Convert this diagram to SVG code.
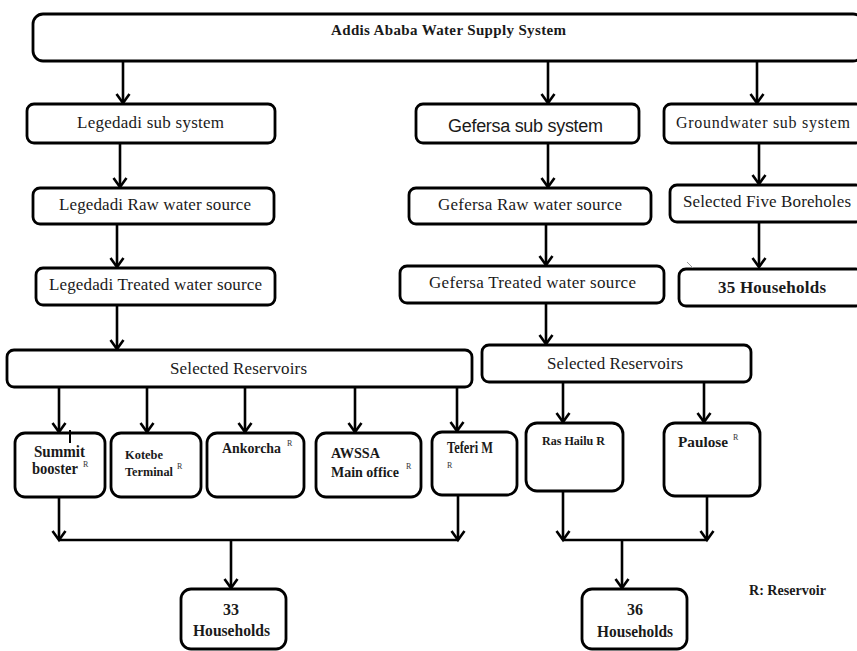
<svg xmlns="http://www.w3.org/2000/svg" width="857" height="651" viewBox="0 0 857 651">
<defs>
<marker id="arr" markerUnits="userSpaceOnUse" markerWidth="16" markerHeight="16" refX="10" refY="7" orient="auto" overflow="visible">
<path d="M1,0.5 L10,7 L1,13.5" fill="none" stroke="#000" stroke-width="2.6"/>
</marker>
</defs>
<style>
.box{fill:#fff;stroke:#000;stroke-width:2.8}
.t{font-family:"Liberation Serif","Times New Roman",serif;fill:#1a1a1a}
.s{font-family:"Liberation Sans",Arial,sans-serif;fill:#1a1a1a}
.b{font-weight:bold}
.c{stroke:#000;stroke-width:2.6;fill:none}
.sup{font-family:"Liberation Serif",serif;font-size:8px;fill:#333}
</style>
<rect width="857" height="651" fill="#fff"/>

<g id="connectors">
<line class="c" x1="123" y1="61" x2="123" y2="103" marker-end="url(#arr)"/>
<line class="c" x1="548" y1="61" x2="548" y2="103" marker-end="url(#arr)"/>
<line class="c" x1="757" y1="61" x2="757" y2="103" marker-end="url(#arr)"/>
<line class="c" x1="120" y1="143" x2="120" y2="187" marker-end="url(#arr)"/>
<line class="c" x1="117" y1="224" x2="117" y2="267" marker-end="url(#arr)"/>
<line class="c" x1="117" y1="305" x2="117" y2="349" marker-end="url(#arr)"/>
<line class="c" x1="548" y1="143" x2="548" y2="187" marker-end="url(#arr)"/>
<line class="c" x1="546" y1="224" x2="546" y2="265" marker-end="url(#arr)"/>
<line class="c" x1="546" y1="303" x2="546" y2="344" marker-end="url(#arr)"/>
<line class="c" x1="759" y1="143" x2="759" y2="184" marker-end="url(#arr)"/>
<line class="c" x1="759" y1="222" x2="759" y2="267" marker-end="url(#arr)"/>
<line class="c" x1="59" y1="387" x2="59" y2="432" marker-end="url(#arr)"/>
<line class="c" x1="147" y1="387" x2="147" y2="432" marker-end="url(#arr)"/>
<line class="c" x1="245" y1="387" x2="245" y2="432" marker-end="url(#arr)"/>
<line class="c" x1="355" y1="387" x2="355" y2="432" marker-end="url(#arr)"/>
<line class="c" x1="457" y1="387" x2="457" y2="431" marker-end="url(#arr)"/>
<line class="c" x1="59" y1="497" x2="59" y2="540" marker-end="url(#arr)"/>
<line class="c" x1="458" y1="496" x2="458" y2="540" marker-end="url(#arr)"/>
<line class="c" x1="59" y1="540" x2="458" y2="540"/>
<line class="c" x1="231" y1="540" x2="231" y2="588" marker-end="url(#arr)"/>
<line class="c" x1="563" y1="382" x2="563" y2="422" marker-end="url(#arr)"/>
<line class="c" x1="704" y1="382" x2="704" y2="422" marker-end="url(#arr)"/>
<line class="c" x1="563" y1="491" x2="563" y2="540" marker-end="url(#arr)"/>
<line class="c" x1="707" y1="496" x2="707" y2="540" marker-end="url(#arr)"/>
<line class="c" x1="563" y1="540" x2="707" y2="540"/>
<line class="c" x1="622" y1="540" x2="622" y2="588" marker-end="url(#arr)"/>
</g>

<g id="n-top"><rect class="box" x="33" y="14" width="830" height="47" rx="10"/>
<text class="t b" x="331" y="35" font-size="15" textLength="235">Addis Ababa Water Supply System</text></g>

<g id="n-leg-sub"><rect class="box" x="27" y="104" width="248" height="39" rx="7"/>
<text class="t" x="77" y="128" font-size="17" textLength="147">Legedadi sub system</text></g>
<g id="n-leg-raw"><rect class="box" x="33" y="188" width="241" height="36" rx="7"/>
<text class="t" x="59" y="210" font-size="17" textLength="192">Legedadi Raw water source</text></g>
<g id="n-leg-treat"><rect class="box" x="36" y="268" width="239" height="37" rx="7"/>
<text class="t" x="49" y="290" font-size="17" textLength="213">Legedadi Treated water source</text></g>

<g id="n-gef-sub"><rect class="box" x="416" y="104" width="223" height="39" rx="7"/>
<text class="s" x="448" y="132" font-size="18" textLength="155">Gefersa sub system</text></g>
<g id="n-gw-sub"><rect class="box" x="664" y="104" width="199" height="39" rx="7"/>
<text class="t" x="676" y="128" font-size="16" textLength="174">Groundwater sub system</text></g>
<g id="n-gef-raw"><rect class="box" x="409" y="188" width="242" height="36" rx="7"/>
<text class="t" x="438" y="210" font-size="17" textLength="184">Gefersa Raw water source</text></g>
<g id="n-bore"><rect class="box" x="670" y="185" width="193" height="37" rx="7"/>
<text class="t" x="683" y="207" font-size="17" textLength="168">Selected Five Boreholes</text></g>
<g id="n-gef-treat"><rect class="box" x="400" y="266" width="264" height="37" rx="7"/>
<text class="t" x="429" y="288" font-size="17" textLength="207">Gefersa Treated water source</text></g>
<g id="n-hh35"><rect class="box" x="679" y="269" width="184" height="37" rx="7"/>
<text class="t b" x="718" y="293" font-size="17" textLength="108">35 Households</text></g>
<line x1="687" y1="262" x2="693" y2="268" stroke="#999" stroke-width="1"/>

<g id="n-res-left"><rect class="box" x="7" y="350" width="465" height="37" rx="7"/>
<text class="t" x="170" y="374" font-size="17" textLength="137">Selected Reservoirs</text></g>
<g id="n-res-right"><rect class="box" x="482" y="345" width="269" height="37" rx="7"/>
<text class="t" x="547" y="369" font-size="17" textLength="136">Selected Reservoirs</text></g>

<g id="n-summit"><rect class="box" x="15" y="433" width="90" height="64" rx="10"/>
<text class="t b" x="34" y="457" font-size="16" textLength="51" lengthAdjust="spacingAndGlyphs">Summit</text>
<text class="t b" x="32" y="474" font-size="16" textLength="46" lengthAdjust="spacingAndGlyphs">booster</text>
<text class="sup" x="83" y="467">R</text>
<line x1="70" y1="430" x2="70" y2="443" stroke="#000" stroke-width="2"/></g>
<g id="n-kotebe"><rect class="box" x="111" y="433" width="90" height="64" rx="10"/>
<text class="t b" x="125" y="459" font-size="12.5" textLength="38" lengthAdjust="spacingAndGlyphs">Kotebe</text>
<text class="t b" x="125" y="476" font-size="12.5" textLength="48" lengthAdjust="spacingAndGlyphs">Terminal</text>
<text class="sup" x="177" y="469">R</text></g>
<g id="n-ankorcha"><rect class="box" x="207" y="433" width="97" height="64" rx="10"/>
<text class="t b" x="222" y="453" font-size="14.5" textLength="59" lengthAdjust="spacingAndGlyphs">Ankorcha</text>
<text class="sup" x="287" y="446">R</text></g>
<g id="n-awssa"><rect class="box" x="316" y="433" width="105" height="64" rx="10"/>
<text class="t b" x="331" y="458" font-size="15" textLength="49" lengthAdjust="spacingAndGlyphs">AWSSA</text>
<text class="t b" x="331" y="477" font-size="14.5" textLength="68" lengthAdjust="spacingAndGlyphs">Main office</text>
<text class="sup" x="406" y="469">R</text></g>
<g id="n-teferi"><rect class="box" x="432" y="432" width="85" height="63" rx="10"/>
<text class="t b" x="447" y="453" font-size="16" textLength="46" lengthAdjust="spacingAndGlyphs">Teferi M</text>
<text class="sup" x="447" y="468">R</text></g>

<g id="n-rashailu"><rect class="box" x="526" y="423" width="97" height="68" rx="11"/>
<text class="t b" x="542" y="445" font-size="13" textLength="63" lengthAdjust="spacingAndGlyphs">Ras Hailu R</text></g>
<g id="n-paulose"><rect class="box" x="664" y="423" width="96" height="73" rx="11"/>
<text class="t b" x="678" y="447" font-size="15.5" textLength="50" lengthAdjust="spacingAndGlyphs">Paulose</text>
<text class="sup" x="733" y="440">R</text></g>

<g id="n-hh33"><rect class="box" x="181" y="589" width="105" height="60" rx="10"/>
<text class="t b" x="231" y="615" font-size="16" text-anchor="middle">33</text>
<text class="t b" x="193" y="636" font-size="16" textLength="77" lengthAdjust="spacingAndGlyphs">Households</text></g>
<g id="n-hh36"><rect class="box" x="582" y="589" width="105" height="60" rx="10"/>
<text class="t b" x="635" y="615" font-size="16" text-anchor="middle">36</text>
<text class="t b" x="597" y="637" font-size="16" textLength="76" lengthAdjust="spacingAndGlyphs">Households</text></g>

<g id="legend"><text class="t b" x="749" y="595" font-size="15" textLength="77" lengthAdjust="spacingAndGlyphs">R: Reservoir</text></g>
</svg>
